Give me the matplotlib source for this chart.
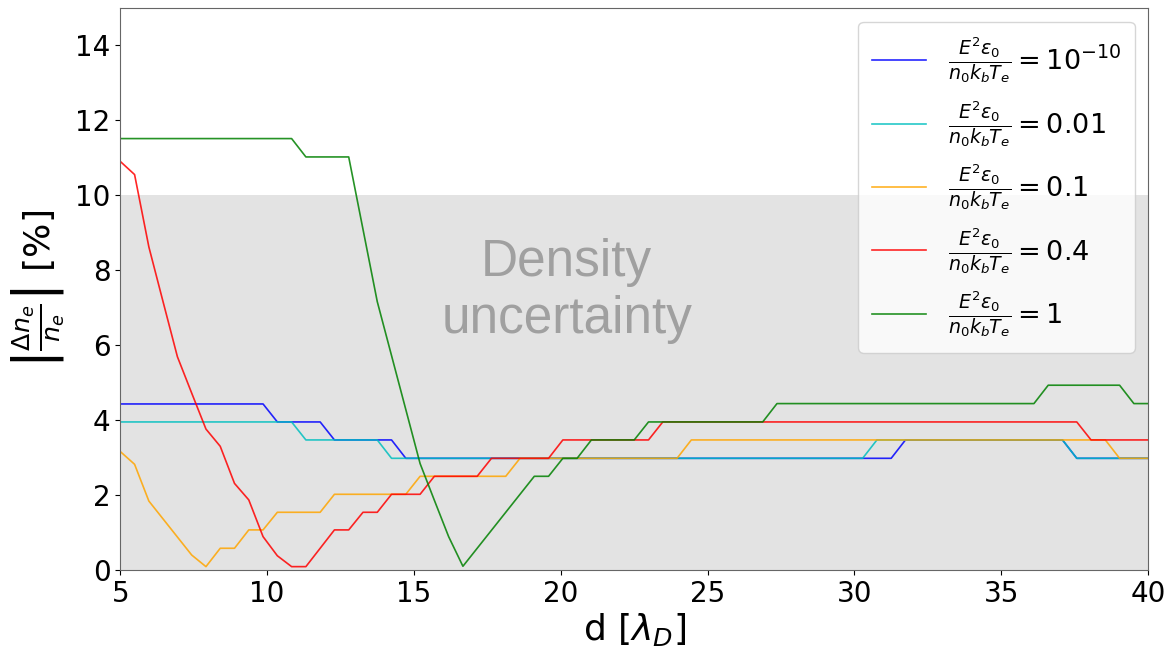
import numpy as np
import matplotlib
matplotlib.use("Agg")
import matplotlib.pyplot as plt

# sampling grid in units of the Debye length
d = np.linspace(5, 40, 73)

err_1e10 = [4.43]*11 + [3.95]*4 + [3.47]*5 + [2.98]*35 + [3.47]*12 + [2.98]*6
err_001 = [3.95]*13 + [3.47]*6 + [2.98]*34 + [3.47]*14 + [2.98]*6
err_01 = [3.16, 2.82, 1.84, 1.36, 0.88, 0.40, 0.09, 0.58, 0.58, 1.07, 1.07] \
    + [1.54]*4 + [2.02]*6 + [2.50]*7 + [2.98]*12 + [3.47]*30 + [2.98]*3
err_04 = [10.9, 10.55, 8.62, 7.15, 5.69, 4.72, 3.76, 3.30, 2.31, 1.87, 0.89, 0.38,
          0.09, 0.09, 0.58, 1.07, 1.07, 1.54, 1.54] \
    + [2.02]*3 + [2.50]*4 + [2.98]*5 + [3.47]*7 + [3.95]*30 + [3.47]*5
err_1 = [11.51]*13 + [11.02]*4 + [9.09, 7.16, 5.72, 4.28, 2.84, 1.86, 0.89, 0.10,
                                 0.58, 1.06, 1.54, 2.02, 2.50, 2.50, 2.98, 2.98] \
    + [3.47]*4 + [3.95]*9 + [4.44]*19 + [4.93]*6 + [4.44]*2

series = [err_1e10, err_001, err_01, err_04, err_1]
ratios = [r"10^{-10}", "0.01", "0.1", "0.4", "1"]
colors = ["b", "c", "orange", "r", "g"]

fig, ax = plt.subplots(figsize=(11.68, 6.47), dpi=100)
fig.subplots_adjust(left=0.103, right=0.983, top=0.988, bottom=0.119)

ax.axhspan(0, 10, color="#e3e3e3", zorder=0, lw=0)
ax.text(20.2, 7.45, "Density\nuncertainty", fontsize=37, color="#a0a0a0",
        family="Liberation Sans", ha="center", va="center", linespacing=1.2)

for y, r, c in zip(series, ratios, colors):
    ax.plot(d, y, color=c, lw=1.2, alpha=0.85,
            label=r"$\frac{E^2\varepsilon_0}{n_0k_bT_e}=%s$" % r)

ax.set_xlim(5, 40)
ax.set_ylim(0, 15)
ax.set_xticks([5, 10, 15, 20, 25, 30, 35, 40])
ax.set_yticks([0, 2, 4, 6, 8, 10, 12, 14])
ax.tick_params(labelsize=20)
for s in ax.spines.values():
    s.set_color("#666666")
ax.set_xlabel(r"d [$\lambda_D$]", fontsize=26, labelpad=2)
ax.set_ylabel(r"$\left|\frac{\Delta n_e}{n_e}\right|$ [%]", fontsize=26, labelpad=6)
ax.legend(loc="upper right", fontsize=19.5, handlelength=2.0, borderpad=0.5,
          labelspacing=0.5, borderaxespad=0, bbox_to_anchor=(0.987, 0.975))

plt.savefig("out.png")
